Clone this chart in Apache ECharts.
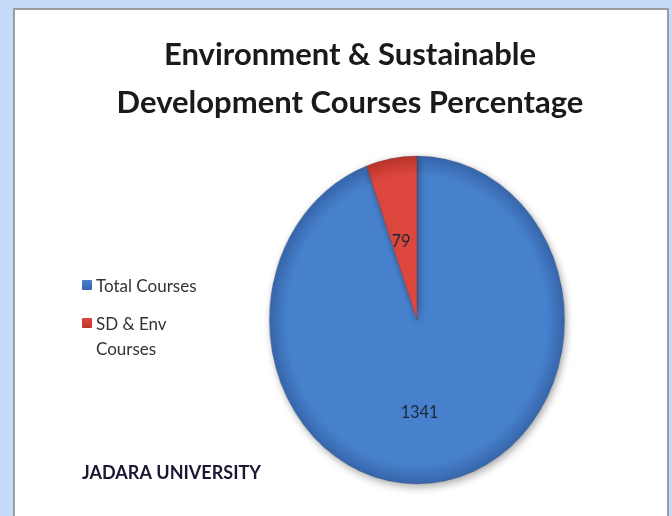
<!DOCTYPE html>
<html>
<head>
<meta charset="utf-8">
<script src="https://cdn.jsdelivr.net/npm/echarts@6/dist/echarts.min.js"></script>
<style>
  html, body { margin: 0; padding: 0; background: #c5dbf8; }
  #wrap { position: relative; width: 672px; height: 516px; overflow: hidden; }
  #main { position: absolute; left: 0; top: 0; width: 672px; height: 516px; }
  /* pie drawn in its own layer, squeezed a bit to get the oval look */
  #pie { position: absolute; left: 217px; top: 120px; width: 400px; height: 400px;
         transform: scaleX(0.9); transform-origin: 50% 50%; }
</style>
</head>
<body>
<div id="wrap">
  <div id="main"></div>
  <div id="pie"></div>
</div>
<script>
const titleLines = ['Environment & Sustainable', 'Development Courses Percentage']
const categories = ['Total Courses', 'SD & Env\nCourses']
const values = [1341, 79]
const sliceColors = [
  ['#4781cd', '#3766ab'],
  ['#de473d', '#b9352c']
]
const footNote = 'JADARA UNIVERSITY'

const font = 'Lato, "Open Sans", sans-serif'

const main = echarts.init(document.getElementById('main'))
const pie = echarts.init(document.getElementById('pie'))

const legendItems = []
categories.forEach((name, i) => {
  const y = 280 + i * 38
  legendItems.push({
    type: 'rect',
    shape: { x: 82, y: y, width: 10, height: 10, r: 1 },
    style: {
      fill: new echarts.graphic.LinearGradient(0, 0, 0, 1, [
        { offset: 0, color: sliceColors[i][0] },
        { offset: 1, color: sliceColors[i][1] }
      ])
    }
  })
  legendItems.push({
    type: 'text',
    x: 96,
    y: y - 6,
    style: {
      text: name,
      font: '17px ' + font,
      fill: '#333',
      lineHeight: 25
    }
  })
})

main.setOption({
  backgroundColor: '#c5dbf8',
  title: {
    text: titleLines.join('\n'),
    left: 345,
    top: 26,
    textAlign: 'center',
    textStyle: {
      fontFamily: font,
      fontSize: 31,
      fontWeight: 'bold',
      color: '#1a1a1a',
      lineHeight: 48
    }
  },
  graphic: [
    {
      type: 'rect',
      z: -10,
      shape: { x: 14, y: 9, width: 654, height: 520 },
      style: { fill: '#fff', stroke: '#9c9c9c', lineWidth: 2 }
    },
    ...legendItems,
    {
      type: 'text',
      x: 82,
      y: 464,
      style: {
        text: footNote,
        font: 'bold 18px ' + font,
        fill: '#1d1533'
      }
    }
  ]
})

pie.setOption({
  series: [
    {
      type: 'pie',
      center: ['50%', '50%'],
      radius: 164,
      startAngle: 90,
      clockwise: true,
      animation: false,
      label: {
        show: true,
        position: 'inside',
        formatter: '{c}',
        fontFamily: font,
        fontSize: 18,
        color: '#1b2638'
      },
      labelLine: { show: false },
      itemStyle: {
        borderColor: 'rgba(40,40,60,0.35)',
        borderWidth: 0.6,
        shadowBlur: 8,
        shadowOffsetX: 2,
        shadowOffsetY: 3,
        shadowColor: 'rgba(0,0,0,0.35)'
      },
      emphasis: { disabled: true },
      data: categories.map((name, i) => ({
        name: name,
        value: values[i],
        label: { offset: i === 0 ? [-12, 8] : [-3, 5] },
        itemStyle: {
          color: new echarts.graphic.RadialGradient(200, 200, 164, [
            { offset: 0, color: sliceColors[i][0] },
            { offset: 0.88, color: sliceColors[i][0] },
            { offset: 1, color: sliceColors[i][1] }
          ], true)
        }
      }))
    }
  ]
})
</script>
</body>
</html>
